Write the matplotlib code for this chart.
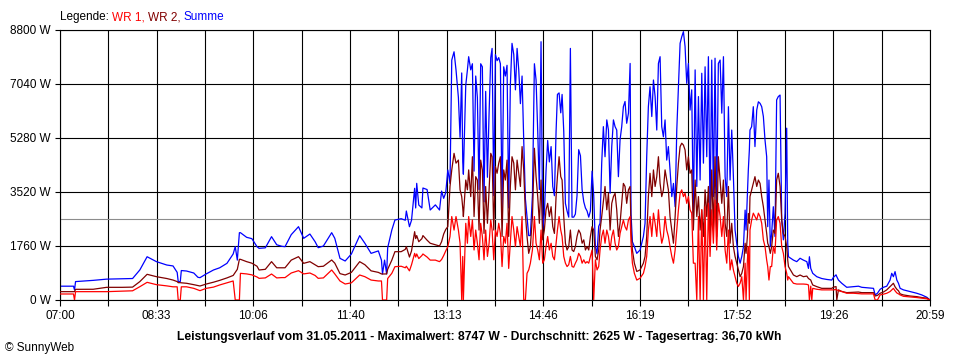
import numpy as np
import matplotlib
matplotlib.use("Agg")
import matplotlib.pyplot as plt

plt.rcParams['font.family'] = ['Liberation Sans', 'DejaVu Sans']

# time axis: minutes after 07:00 (07:00 .. 20:59)
tick_labels = ["07:00", "08:33", "10:06", "11:40", "13:13", "14:46", "16:19", "17:52", "19:26", "20:59"]
y_ticks = [0, 1760, 3520, 5280, 7040, 8800]
durchschnitt = 2625
titel = "Leistungsverlauf vom 31.05.2011 - Maximalwert: 8747 W - Durchschnitt: 2625 W - Tagesertrag: 36,70 kWh"
legende = [("Legende: ", 'black'), ("WR 1, ", '#ff0000'), ("WR 2, ", '#800000'), ("Summe", '#0000ff')]

# (minute, W)
minutes = [
    0, 13, 14, 15, 32, 45, 60, 70, 77, 84, 93, 103, 109, 113, 114, 116, 117, 122, 129, 133,
    135, 141, 148, 154, 161, 167, 169, 171, 173, 174, 180, 185, 190, 192, 198, 204, 209, 214, 217, 223,
    230, 235, 241, 246, 249, 254, 262, 265, 270, 275, 281, 289, 294, 300, 307, 310, 311, 313, 315, 316,
    320, 323, 329, 333, 334, 337, 339, 342, 343, 344, 346, 349, 350, 354, 357, 362, 366, 368, 370, 372,
    374,
    376.1, 377.8, 380.0, 381.9, 384.2, 385.8, 387.4, 388.4, 389.0, 391.3, 392.9, 394.1, 396.1, 397.7, 399.3, 400.9,
    402.5, 404.1, 405.7, 407.3, 408.9, 410.5, 412.2, 413.8, 415.4, 416.7, 418.3, 419.9, 421.5, 423.1, 424.7, 426.3,
    427.9, 429.5, 431.1, 432.7, 434.3, 435.9, 437.6, 439.2, 440.8, 442.4, 444.0, 445.6, 447.2, 448.8, 450.4, 452.0,
    453.6, 455.6, 457.5, 459.1, 460.7, 462.3, 463.9, 465.5, 467.1, 468.7, 470.3, 471.9, 473.6, 475.2, 476.8, 478.4,
    479.7, 481.3, 482.9, 484.2, 485.8, 487.4, 489.0, 490.6, 492.2, 493.8, 495.4, 497.0, 498.6, 500.2, 501.9, 503.5,
    505.1, 506.7, 508.3, 509.9, 511.5, 513.1, 514.7, 516.3, 517.9, 519.5,
    520.8, 522.4, 524.0, 525.6, 527.3, 528.9, 530.5, 532.1, 533.7, 535.3, 536.9, 538.5, 540.1, 541.7, 543.3, 544.9,
    546.5, 548.2, 549.8, 550.7, 552.0, 553.9, 556.2, 559.4, 562.6, 564.2, 565.8, 567.4, 569.0, 570.7, 572.3, 573.9,
    575.5, 577.1, 578.7, 580.3, 581.9, 583.5, 585.1, 586.7, 588.3, 590.0, 591.6, 593.2, 594.8, 596.4, 598.0, 599.6,
    601.2, 602.8, 604.4, 606.0, 607.6, 609.2, 610.8, 612.5, 614.1, 615.7, 617.3, 618.9, 620.5, 622.1, 623.7, 625.3,
    626.9, 628.5, 630.1, 631.7, 633.3, 634.9, 636.6, 638.2, 639.8, 641.4, 643.0, 644.6, 646.2, 647.8, 649.4, 651.0,
    652.6, 654.2, 655.9, 657.5, 659.1, 660.7,
    661.6, 662.9, 663.8, 664.8, 665.4, 667.0, 668.6, 670.2, 671.9, 673.5, 675.1, 676.7, 678.3, 679.9, 681.5, 682.5,
    683.7, 685.0, 686.3, 687.9, 689.5, 691.1, 692.7, 694.4, 696.0, 697.6, 699.2, 700.8, 701.8,
    702.5, 707.3, 710.5, 713.7, 716.9, 720.2, 721.8, 722.7, 724.0, 725.0, 725.9, 729.8, 734.6, 739.4, 744.3, 745.9,
    748.4, 749.1, 750.7, 753.9, 758.7, 765.2, 770.0, 773.2, 784.5, 786.1, 788.3, 790.9, 794.1, 797.3, 800.5, 802.1,
    803.7, 805.3, 807.0, 808.6, 810.2, 813.4, 819.8, 826.2, 831.1, 835.9, 839,
]

summe = [
    450, 450, 330, 600, 640, 680, 690, 700, 980, 1410, 1250, 1140, 1110, 900, 600, 600, 960, 945, 880, 740,
    728, 850, 978, 1050, 1195, 1500, 1740, 1300, 2194, 2194, 2043, 2000, 1738, 1684, 1700, 2064, 1800, 1750, 1738, 2130,
    2390, 2010, 2150, 1900, 1705, 1760, 2194, 2010, 1358, 1271, 1500, 2097, 1850, 1520, 1600, 1300, 847, 1300, 850, 1700,
    2281, 2607, 2650, 2600, 2900, 2389, 2600, 3640, 3000, 3802, 3096, 3000, 3650, 3600, 2933, 3100, 2933, 3550, 3314, 3500,
    4237,
    3800, 7820, 8090, 7500, 6600, 5300, 7400, 4500, 4100, 7000, 7500, 7930, 7500, 7700, 4200, 7300,
    6600, 3600, 7700, 7600, 3200, 6800, 4000, 6100, 7900, 8200, 3400, 8000, 7800, 7900, 7700, 3000,
    7600, 7300, 7650, 3000, 7000, 8365, 8000, 6850, 8200, 7500, 6400, 7300, 5200, 3300, 2700, 2100,
    2100, 3400, 7700, 7170, 5500, 3600, 8418, 2300, 2800, 4200, 5200, 4500, 5000, 3700, 3400, 5500,
    6700, 6750, 6100, 6700, 5500, 3150, 2900, 2700, 8200, 2700, 2700, 2800, 3400, 4900, 4700, 3600,
    3200, 3000, 2900, 2700, 2900, 4200, 3400, 1750, 1500, 2400,
    2500, 4460, 5650, 4670, 5870, 5540, 3480, 5000, 5870, 5650, 5540, 4020, 5220, 5650, 6300, 6470,
    5760, 6090, 7710, 2800, 1900, 1740, 1520, 1630, 2070, 2500, 4670, 6300, 6950, 5980, 7170, 6630,
    5540, 7710, 7930, 5650, 5320, 5870, 4560, 5000, 4240, 3370, 3800, 3040, 5540, 6950, 8365, 8580,
    8746, 8260, 7060, 7710, 6190, 6850, 2720, 7500, 3700, 6630, 3910, 7390, 4460, 7600, 4670, 7930,
    2720, 7820, 3370, 7880, 3150, 7710, 7820, 6090, 7930, 4020, 3370, 6300, 3910, 5540, 4020, 2280,
    1850, 1420, 1200, 1420, 1740, 2930,
    2280, 3480, 4240, 4900, 5540, 5650, 6300, 5000, 6190, 6460, 6410, 6300, 5980, 5210, 4670, 2390,
    3910, 1740, 2170, 3040, 2070, 6520, 6630, 6680, 2610, 1960, 2830, 5600, 1850,
    1410, 1300, 1250, 1360, 1300, 1250, 1030, 1410, 1030, 950, 870, 760, 700, 670, 650, 740,
    820, 760, 650, 545, 414, 436, 450, 414, 380, 165, 220, 350, 414, 450, 650, 870,
    760, 925, 650, 545, 380, 330, 275, 220, 165, 90, 0,
]

wr2 = [
    272, 272, 272, 348, 350, 413, 413, 420, 600, 837, 760, 700, 650, 600, 565, 565, 560, 545, 500, 470,
    456, 520, 580, 640, 720, 800, 900, 1000, 1326, 1326, 1250, 1200, 1100, 978, 1000, 1250, 1050, 1050, 1050, 1300,
    1412, 1195, 1250, 1150, 1086, 1100, 1304, 1200, 860, 815, 900, 1249, 1150, 950, 900, 850, 847, 847, 850, 1000,
    1300, 1575, 1575, 1650, 1738, 1400, 1600, 2227, 2000, 2100, 1900, 2000, 2100, 1950, 1850, 1800, 1760, 1900, 2150, 2300,
    2390,
    3700, 4240, 4780, 4460, 4560, 3590, 3370, 3000, 2720, 3910, 3590, 4240, 3370, 4670, 2720, 4020,
    3910, 2280, 4560, 4240, 2170, 3700, 2500, 3590, 4780, 4670, 2280, 4350, 4130, 4460, 4670, 2070,
    4240, 3910, 4560, 2070, 3700, 4670, 4460, 3590, 4560, 4130, 3700, 5000, 4240, 2800, 2070, 1520,
    1740, 2720, 4945, 4020, 3370, 2500, 3910, 1960, 2280, 2940, 3150, 2720, 3040, 2390, 2170, 3370,
    4020, 4670, 4020, 3910, 2720, 1850, 1630, 1740, 2280, 1630, 1580, 1740, 2070, 2280, 2170, 1850,
    1960, 1630, 1740, 1630, 2070, 2390, 2280, 1420, 1310, 1630,
    2280, 2720, 3200, 3700, 2940, 3480, 2280, 3150, 3370, 3480, 2940, 2070, 2500, 3150, 3800, 3700,
    3150, 3590, 3700, 2280, 1630, 1200, 930, 980, 1200, 1420, 2070, 3370, 4130, 3370, 4240, 3700,
    4020, 4670, 3800, 3370, 3590, 4240, 3910, 3590, 2720, 2280, 1850, 2720, 3700, 4460, 5000, 5110,
    5050, 4890, 4240, 4670, 4130, 4240, 2280, 3910, 2720, 3370, 2280, 2940, 2070, 3590, 2720, 3700,
    1850, 4240, 2280, 4670, 2070, 4670, 3910, 3150, 3910, 2500, 2070, 3700, 1850, 2500, 1740, 1420,
    1200, 980, 760, 870, 1090, 1850,
    1520, 2070, 2820, 2500, 3370, 3590, 3800, 4020, 3700, 3910, 3800, 3370, 3040, 2610, 2170, 1850,
    1740, 1520, 1740, 2280, 2170, 3910, 4130, 3700, 2610, 2170, 2070, 1740, 1300,
    1090, 815, 760, 815, 760, 780, 700, 680, 650, 560, 490, 436, 380, 380, 380, 420,
    436, 0, 330, 280, 240, 250, 260, 240, 240, 130, 150, 220, 260, 330, 436, 490,
    545, 430, 350, 300, 200, 165, 130, 110, 80, 60, 0,
]

wr1 = [
    196, 196, 0, 272, 272, 272, 290, 300, 434, 576, 500, 460, 430, 430, 0, 0, 430, 430, 380, 330,
    304, 380, 420, 490, 560, 620, 0, 0, 0, 869, 850, 820, 750, 706, 720, 847, 720, 730, 730, 880,
    956, 850, 880, 800, 706, 720, 978, 850, 620, 521, 560, 815, 760, 650, 620, 620, 0, 0, 0, 700,
    870, 1086, 1100, 1050, 1100, 950, 1150, 1520, 1400, 1500, 1350, 1450, 1500, 1400, 1300, 1300, 1250, 1320, 1450, 1600,
    1738,
    2070, 2720, 2280, 2720, 2280, 1850, 0, 1420, 0, 2500, 1850, 2720, 2070, 2610, 1630, 2280,
    1850, 1310, 2500, 2070, 1310, 2280, 1420, 1850, 2610, 2280, 1310, 2280, 2070, 2500, 2170, 1090,
    2070, 1850, 2500, 1030, 1850, 2720, 2280, 1740, 2390, 2070, 1740, 2720, 0, 0, 870, 980,
    1200, 1630, 2720, 1850, 1630, 1310, 2280, 1200, 1310, 1740, 2070, 1630, 1850, 1420, 1310, 1850,
    2280, 2720, 2280, 2070, 1420, 1200, 1090, 1150, 1420, 1090, 1070, 1200, 1310, 1520, 1420, 1200,
    1310, 1200, 1250, 1200, 1420, 1630, 0, 1310, 980, 1090,
    1630, 2070, 2280, 1850, 2280, 2070, 1630, 2070, 2280, 1850, 1630, 1740, 2170, 2390, 2610, 2390,
    2280, 2610, 2720, 1850, 1200, 870, 650, 710, 870, 1090, 1420, 2280, 2720, 2070, 2830, 2500,
    2070, 2940, 2280, 1850, 2070, 2720, 2280, 2070, 1740, 1420, 1200, 1630, 2280, 2940, 3480, 3590,
    3370, 3480, 3150, 3370, 2940, 2830, 1200, 1200, 0, 2720, 0, 2940, 0, 3040, 0, 3150,
    1420, 2940, 1850, 3260, 1630, 3150, 2720, 2070, 2720, 1630, 1200, 2280, 980, 1310, 980, 760,
    550, 440, 550, 760, 0, 1200,
    0, 1300, 1740, 0, 2280, 2610, 2830, 2720, 2610, 2830, 2720, 2500, 1960, 1740, 1300, 1090,
    650, 1090, 1090, 1740, 1520, 2610, 2720, 2500, 1740, 1520, 1090, 870, 650,
    760, 545, 520, 520, 520, 510, 490, 0, 450, 0, 380, 350, 330, 330, 330, 330,
    345, 330, 300, 275, 220, 220, 210, 200, 200, 0, 0, 165, 190, 220, 275, 330,
    380, 300, 230, 200, 165, 120, 100, 80, 60, 40, 0,
]

ende = 839

fig = plt.figure(figsize=(9.6, 3.6), dpi=100)
ax = fig.add_axes([60 / 960, 60 / 360, 870 / 960, 270 / 360])

ax.set_xlim(0, ende)
ax.set_ylim(0, 8800)

ax.set_xticks(np.linspace(0, ende, len(tick_labels)))
ax.set_xticklabels(tick_labels)
ax.set_xticks(np.linspace(0, ende, 2 * len(tick_labels) - 1), minor=True)
ax.set_yticks(y_ticks)
ax.set_yticklabels([f"{v} W" for v in y_ticks])

ax.grid(True, axis='x', which='both', color='black', lw=0.8)
ax.grid(True, axis='y', which='major', color='black', lw=0.8)
ax.set_axisbelow(True)
for s in ax.spines.values():
    s.set_linewidth(0.8)

ax.tick_params(axis='x', which='both', length=4.5, width=0.8, labelsize=8.5, pad=3)
ax.tick_params(axis='y', length=3.5, width=0.8, labelsize=8.5, pad=3)

ax.axhline(durchschnitt, color='#8c8c8c', lw=0.8, zorder=1.5)
ax.plot(minutes, summe, color='#0000ff', lw=0.9, zorder=2)
ax.plot(minutes, wr2, color='#800000', lw=0.9, zorder=3)
ax.plot(minutes, wr1, color='#ff0000', lw=0.9, zorder=4)

# legend line at the top, pieces placed one after the other
renderer = fig.canvas.get_renderer()
lx = 60
for txt, col in legende:
    t = fig.text(lx / 960, 1 - 17 / 360, txt, color=col, fontsize=8.5, va='center')
    lx += t.get_window_extent(renderer).width

fig.text(479 / 960, 1 - 337 / 360, titel, fontsize=8.7, fontweight='bold', ha='center', va='center')
fig.text(5 / 960, 1 - 348 / 360, "© SunnyWeb", fontsize=8.5, va='center')

fig.savefig("out.png", dpi=100)
